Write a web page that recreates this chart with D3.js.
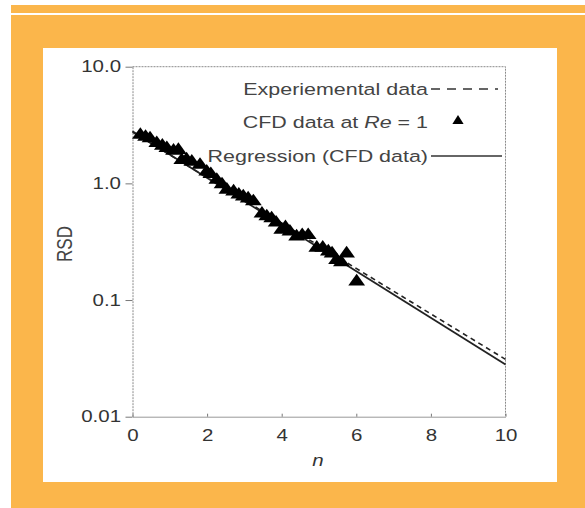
<!DOCTYPE html>
<html lang="en">
<head>
<meta charset="UTF-8">
<title>RSD vs n</title>
<script src="https://d3js.org/d3.v7.min.js"></script>
<style>
  body { margin: 0; background: #fff; }
  svg { display: block; font-family: "Liberation Sans", Arial, sans-serif; }
  .tick text { fill: #333; font-size: 16px; }
</style>
</head>
<body>
<div id="chart"></div>
<script>
// CFD data at Re = 1
const cfdN = [0.21, 0.35, 0.47, 0.65, 0.8, 0.92, 1.1, 1.23, 1.32, 1.45, 1.59, 1.81, 1.99, 2.1,
  2.26, 2.4, 2.53, 2.71, 2.85, 2.97, 3.1, 3.24, 3.47, 3.6, 3.73, 3.85, 4.0, 4.1, 4.22, 4.4,
  4.55, 4.71, 4.94, 5.1, 5.25, 5.35, 5.47, 5.6, 5.74, 6.01];
const cfdRsd = [2.6, 2.5, 2.43, 2.21, 2.1, 2.0, 1.9, 1.93, 1.58, 1.6, 1.53, 1.44, 1.26, 1.2,
  1.07, 0.98, 0.88, 0.85, 0.8, 0.77, 0.74, 0.7, 0.55, 0.52, 0.5, 0.46, 0.4, 0.42, 0.385, 0.35,
  0.36, 0.36, 0.28, 0.28, 0.26, 0.25, 0.22, 0.21, 0.25, 0.144];

// experimental data (dashed) and regression of CFD data (solid)
const expN = [0, 10];
const expRsd = [2.75, 0.031];
const regN = [0, 10];
const regRsd = [2.8, 0.028];

const xTicks = [0, 2, 4, 6, 8, 10];
const yTicks = [10, 1, 0.1, 0.01];
const yTickLabels = ["10.0", "1.0", "0.1", "0.01"];

const W = 585, H = 508;
const orange = "#fbb64b";
const sx = 1.28; // the figure is stretched horizontally

const svg = d3.select("#chart").append("svg")
  .attr("width", W).attr("height", H);

// frame
svg.append("rect").attr("x", 11).attr("y", 5).attr("width", W - 11).attr("height", 8).attr("fill", orange);
svg.append("rect").attr("x", 11).attr("y", 15).attr("width", W - 11).attr("height", H - 15).attr("fill", orange);
svg.append("rect").attr("x", 43).attr("y", 48).attr("width", 514).attr("height", 434).attr("fill", "#fff");

const x = d3.scaleLinear().domain([0, 10]).range([132.5, 505.5]);
const y = d3.scaleLog().domain([0.01, 10]).range([416.7, 66.7]);

// plot box (top and right)
svg.append("path")
  .attr("d", `M${x(0)},${y(10)}H${x(10)}V${y(0.01)}`)
  .attr("fill", "none").attr("stroke", "#8a8a8a").attr("stroke-dasharray", "2,1");

// axes
const xAxis = svg.append("g")
  .attr("transform", `translate(0,${y(0.01)})`)
  .call(d3.axisBottom(x).tickValues(xTicks).tickSizeInner(-3).tickSizeOuter(0));
xAxis.select(".domain").attr("stroke", "#999");
xAxis.selectAll(".tick line").attr("stroke", "#777");
xAxis.selectAll(".tick text")
  .attr("y", 12.5).attr("transform", `scale(${sx},1)`);

const yAxis = svg.append("g")
  .attr("transform", `translate(${x(0)},0)`)
  .call(d3.axisLeft(y).tickValues(yTicks).tickFormat((d, i) => yTickLabels[i])
    .tickSizeInner(7).tickSizeOuter(0));
yAxis.select(".domain").attr("stroke", "#8a8a8a").attr("stroke-dasharray", "2,1");
yAxis.selectAll(".tick line").attr("stroke", "#777");
yAxis.selectAll(".tick text")
  .attr("x", -11.5 / sx).attr("transform", `scale(${sx},1)`);

// axis titles
svg.append("text")
  .attr("transform", `translate(64,244) scale(${sx},1) rotate(-90)`)
  .attr("text-anchor", "middle").attr("dy", "0.35em")
  .attr("fill", "#444").attr("font-size", 17).text("RSD");
svg.append("text")
  .attr("transform", `translate(318,463) scale(${sx},1)`)
  .attr("text-anchor", "middle").attr("dy", "0.2em")
  .attr("fill", "#333").attr("font-size", 16).attr("font-style", "italic").text("n");

// lines
const line = d3.line().x(d => x(d[0])).y(d => y(d[1]));
svg.append("path")
  .datum(regN.map((n, i) => [n, regRsd[i]]))
  .attr("d", line).attr("fill", "none").attr("stroke", "#222").attr("stroke-width", 1.8);
svg.append("path")
  .datum(expN.map((n, i) => [n, expRsd[i]]))
  .attr("d", line).attr("fill", "none").attr("stroke", "#222").attr("stroke-width", 1.6)
  .attr("stroke-dasharray", "5,4");

// CFD triangles
const tri = d3.symbol(d3.symbolTriangle).size(78);
svg.append("g").selectAll("path")
  .data(cfdN.map((n, i) => [n, cfdRsd[i]]))
  .join("path")
  .attr("d", tri)
  .attr("transform", d => `translate(${x(d[0])},${y(d[1])}) scale(1.25,1)`)
  .attr("fill", "#000");

// legend
const leg = svg.append("g").attr("fill", "#444").attr("font-size", 16.5);
function legText(yy, parts) {
  const t = leg.append("text")
    .attr("transform", `translate(428,${yy}) scale(1.3,1)`)
    .attr("text-anchor", "end").attr("dy", "0.35em");
  parts.forEach(p => t.append("tspan").attr("font-style", p[1] ? "italic" : null).text(p[0]));
}
legText(89, [["Experiemental data", false]]);
legText(122, [["CFD data at ", false], ["Re", true], [" = 1", false]]);
legText(156, [["Regression (CFD data)", false]]);

svg.append("line").attr("x1", 431).attr("x2", 498).attr("y1", 89).attr("y2", 89)
  .attr("stroke", "#333").attr("stroke-width", 1.6).attr("stroke-dasharray", "9,7");
svg.append("path")
  .attr("d", d3.symbol(d3.symbolTriangle).size(45))
  .attr("transform", "translate(458,121) scale(1.1,1)").attr("fill", "#000");
svg.append("line").attr("x1", 431).attr("x2", 502).attr("y1", 156).attr("y2", 156)
  .attr("stroke", "#333").attr("stroke-width", 1.6);
</script>
</body>
</html>
